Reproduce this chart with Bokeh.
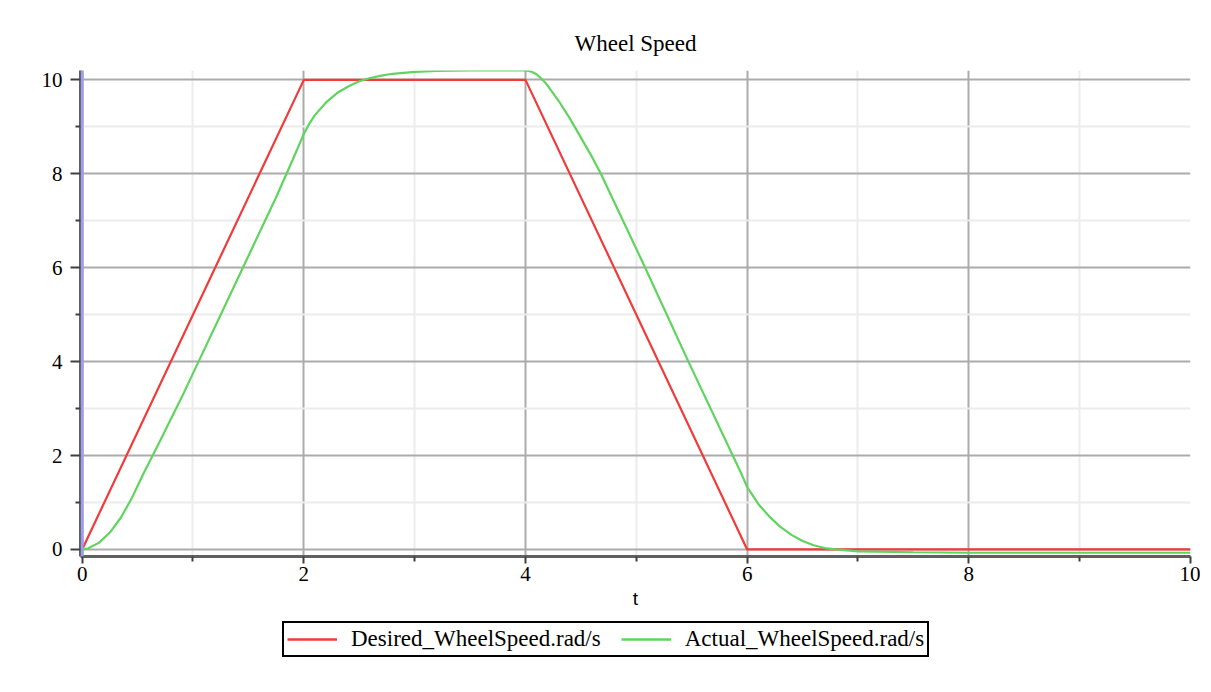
from bokeh.plotting import figure
from bokeh.models import Range1d, Legend, LegendItem, Span, FixedTicker
from bokeh.layouts import column
from bokeh.embed import file_html
from bokeh.resources import INLINE

# ---- data ----
t_desired = [0, 2, 4, 6, 10]
desired = [0, 10, 10, 0, 0]

t_actual = [0, 0.05, 0.15, 0.25, 0.35, 0.45, 0.55, 0.7, 0.9, 1.05, 1.25, 1.5, 1.75,
            1.9, 2.0, 2.05, 2.1, 2.2, 2.3, 2.4, 2.5, 2.6, 2.7, 2.8, 3.0, 3.2, 3.5,
            4.0, 4.05, 4.1, 4.16, 4.2, 4.3, 4.4, 4.5, 4.6, 4.68, 4.88, 5.08, 5.47,
            5.87, 5.95, 6.0, 6.05, 6.1, 6.2, 6.3, 6.4, 6.5, 6.6, 6.7, 6.8, 7.0,
            7.5, 8.0, 10.0]
actual = [0, 0.02, 0.14, 0.36, 0.68, 1.1, 1.6, 2.3, 3.25, 4.0, 5.0, 6.25, 7.5,
          8.3, 8.85, 9.07, 9.25, 9.52, 9.72, 9.86, 9.97, 10.04, 10.09, 10.13, 10.17, 10.19, 10.2,
          10.2, 10.18, 10.12, 9.99, 9.88, 9.55, 9.18, 8.77, 8.36, 8.0, 7.0, 6.0, 4.0,
          2.0, 1.6, 1.33, 1.15, 0.97, 0.7, 0.48, 0.31, 0.18, 0.09, 0.03, 0.0, -0.04,
          -0.06, -0.07, -0.07]

x_major = [0, 2, 4, 6, 8, 10]
x_minor = [1, 3, 5, 7, 9]
y_major = [0, 2, 4, 6, 8, 10]
y_minor = [1, 3, 5, 7, 9]

title_text = "Wheel Speed"
x_label = "t"
label_desired = "Desired_WheelSpeed.rad/s"
label_actual = "Actual_WheelSpeed.rad/s"
color_desired = "#f23a3a"
color_actual = "#5fd45f"

SERIF = "Liberation Serif"
W = 1200
H1 = 616
H2 = 74

p = figure(width=W, height=H1, output_backend="svg", toolbar_location=None,
           x_range=Range1d(-0.015, 10.0), y_range=Range1d(-0.15, 10.2),
           title=title_text)
p.min_border_left = 80
p.min_border_right = 10
p.min_border_top = 70
p.min_border_bottom = H1 - 556
p.outline_line_color = None
p.background_fill_color = "white"

p.title.align = "center"
p.title.text_font = SERIF
p.title.text_font_size = "23px"
p.title.text_font_style = "normal"
p.title.text_color = "black"
p.title.standoff = 30

# axes
for ax in (p.xaxis[0], p.yaxis[0]):
    ax.major_label_text_font = SERIF
    ax.major_label_text_font_size = "21px"
    ax.major_label_text_color = "black"
    ax.axis_line_color = "#606060"
    ax.axis_line_width = 3
    ax.major_tick_line_color = "#404040"
    ax.minor_tick_line_color = "#404040"
    ax.major_tick_line_width = 2
    ax.minor_tick_line_width = 2
    ax.major_tick_in = 0
    ax.minor_tick_in = 0

p.xaxis.ticker = FixedTicker(ticks=x_major, minor_ticks=x_minor)
p.yaxis.ticker = FixedTicker(ticks=y_major, minor_ticks=y_minor)
p.xaxis.major_tick_out = 7
p.xaxis.minor_tick_out = 5
p.yaxis.major_tick_out = 10
p.yaxis.minor_tick_out = 5
p.xaxis.major_label_standoff = 3
p.yaxis.major_label_standoff = 8
p.xaxis.axis_label = x_label
p.xaxis.axis_label_text_font = "Liberation Sans"
p.xaxis.axis_label_text_font_size = "19px"
p.xaxis.axis_label_text_font_style = "normal"
p.xaxis.axis_label_text_color = "black"
p.xaxis.axis_label_standoff = 4

# grid
for g in (p.xgrid[0], p.ygrid[0]):
    g.grid_line_color = "#ababab"
    g.grid_line_width = 2
    g.minor_grid_line_color = "#ececec"
    g.minor_grid_line_width = 2

p.add_layout(Span(location=0, dimension="height", line_color="#9d9df0", line_width=3))

p.line(t_desired, desired, line_color=color_desired, line_width=2.2)
p.line(t_actual, actual, line_color=color_actual, line_width=2.2)

# ---- legend strip below the plot (frame aligned with the main plot's frame) ----
q = figure(width=W, height=H2, output_backend="svg", toolbar_location=None,
           x_range=Range1d(0, 1), y_range=Range1d(0, 1))
q.min_border_left = 80
q.min_border_right = 10
q.min_border_top = 0
q.min_border_bottom = 0
q.axis.visible = False
q.grid.visible = False
q.outline_line_color = None
# legend proxies (drawn outside the visible range; only their legend swatches show)
lr1 = q.line([5, 6], [5, 6], line_color=color_desired, line_width=2.5)
lr2 = q.line([5, 6], [5, 6], line_color=color_actual, line_width=2.5)

legend = Legend(items=[LegendItem(label=label_desired, renderers=[lr1]),
                       LegendItem(label=label_actual, renderers=[lr2])],
                orientation="horizontal", location=(202, 33))
legend.label_text_font = SERIF
legend.label_text_font_size = "23px"
legend.label_text_color = "black"
legend.border_line_color = "black"
legend.border_line_alpha = 1.0
legend.border_line_width = 2
legend.background_fill_alpha = 1.0
legend.glyph_width = 50
legend.spacing = 20
legend.padding = 3
legend.margin = 0
legend.label_standoff = 14
q.add_layout(legend)

open("out.html", "w").write(file_html(column(p, q, spacing=0), INLINE))
